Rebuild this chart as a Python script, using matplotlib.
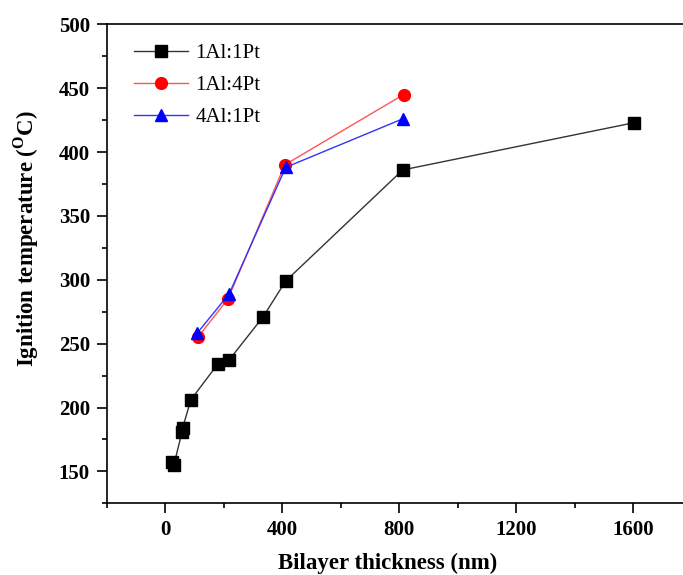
import matplotlib
matplotlib.use("Agg")
import matplotlib.pyplot as plt
from matplotlib.ticker import MultipleLocator

plt.rcParams['font.family'] = ['Liberation Serif', 'DejaVu Serif']
plt.rcParams['mathtext.fontset'] = 'custom'
plt.rcParams['mathtext.rm'] = 'Liberation Serif:bold'

# Ignition temperature vs bilayer thickness for each Al:Pt ratio
x_11 = [25, 30, 58, 60, 88, 180, 218, 335, 412, 812, 1603]
y_11 = [157, 155, 181, 184, 206, 234, 237, 271, 299, 386, 423]

x_14 = [112, 215, 409, 815]
y_14 = [255, 285, 390, 445]

x_41 = [109, 219, 412, 812]
y_41 = [258, 289, 388, 426]

labels = ['1Al:1Pt', '1Al:4Pt', '4Al:1Pt']

fig = plt.figure(figsize=(6.83, 5.75), dpi=100)
ax = fig.add_axes([0.156, 0.1247, 0.857, 0.833])

ax.plot(x_11, y_11, color='#333333', lw=1.0, marker='s', ms=8,
        mfc='black', mec='black', label=labels[0])
ax.plot(x_14, y_14, color='#ff5555', lw=1.0, marker='o', ms=8.5,
        mfc='red', mec='red', label=labels[1])
ax.plot(x_41, y_41, color='#3333ff', lw=1.0, marker='^', ms=9,
        mfc='blue', mec='blue', label=labels[2])

ax.set_xlim(-200, 1800)
ax.set_ylim(125, 500)
ax.xaxis.set_major_locator(MultipleLocator(400))
ax.xaxis.set_minor_locator(MultipleLocator(200))
ax.yaxis.set_major_locator(MultipleLocator(50))
ax.yaxis.set_minor_locator(MultipleLocator(25))

ax.spines['right'].set_visible(False)
for s in ['left', 'bottom', 'top']:
    ax.spines[s].set_linewidth(1.2)

ax.tick_params(which='major', direction='out', length=7, width=1.2,
               labelsize=15, pad=5)
ax.tick_params(which='minor', direction='out', length=3.5, width=1.2)
for t in ax.get_xticklabels() + ax.get_yticklabels():
    t.set_fontweight('bold')

ax.set_xlabel('Bilayer thickness (nm)', fontsize=16.5, fontweight='bold')
ax.xaxis.set_label_coords(0.481, -0.104)
ax.set_ylabel(r'Ignition temperature ($^{\mathrm{O}}$C)', fontsize=16.5,
              fontweight='bold')
ax.yaxis.set_label_coords(-0.112, 0.553)

ax.legend(loc='upper left', frameon=False, fontsize=15, handlelength=2.6,
          handletextpad=0.35, borderaxespad=0.3, labelspacing=0.6,
          bbox_to_anchor=(0.022, 0.99))

fig.savefig('out.png', dpi=100)
